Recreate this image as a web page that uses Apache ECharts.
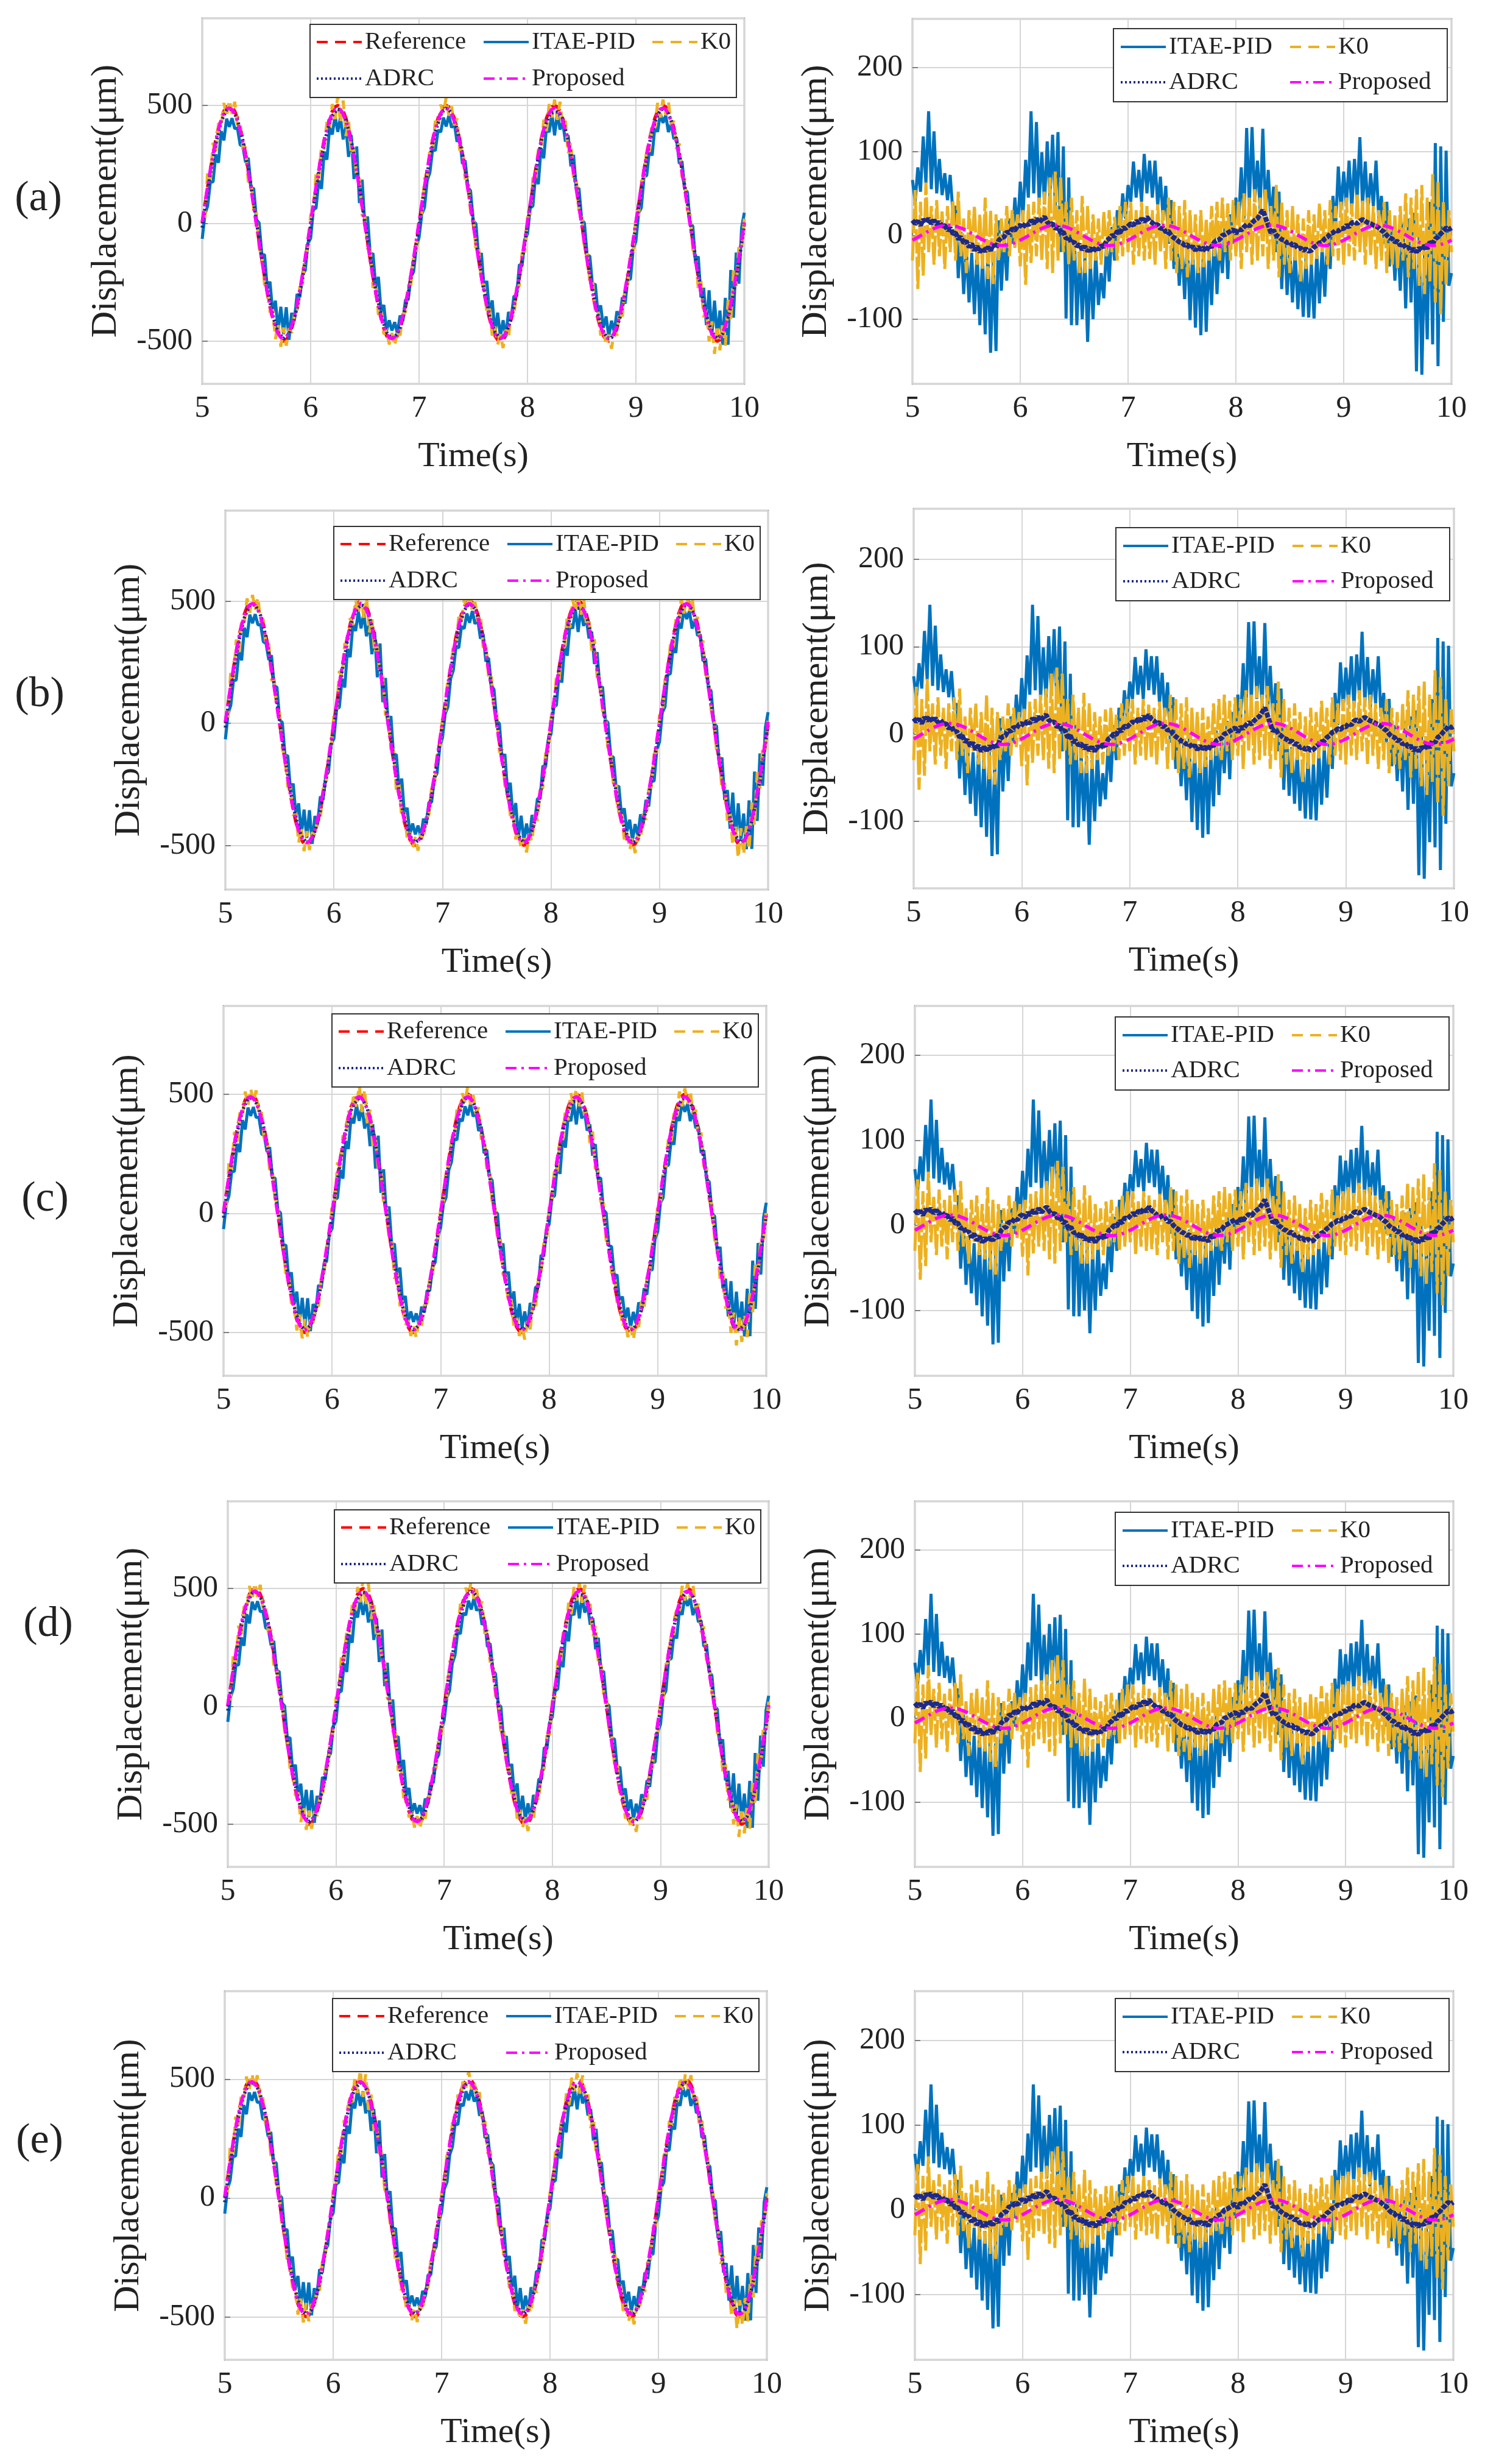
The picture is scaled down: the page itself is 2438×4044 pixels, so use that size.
<!DOCTYPE html>
<html>
<head>
<meta charset="UTF-8">
<title>Displacement tracking</title>
<script src="https://cdn.jsdelivr.net/npm/echarts/dist/echarts.min.js"></script>
<style>body{margin:0;background:#fff;}</style>
</head>
<body>
<div id="main" style="width:2438px;height:4044px;"></div>
<script type="text/javascript">

// sampling of the time axis (s): one value every 0.025 s from 5 to 10
var tStart = 5;
var tStep = 0.025;
var xTicks = [5, 6, 7, 8, 9, 10];
var panelNames = ['(a)', '(b)', '(c)', '(d)', '(e)'];
var leftNames = ['Reference', 'ITAE-PID', 'K0', 'ADRC', 'Proposed'];
var rightNames = ['ITAE-PID', 'K0', 'ADRC', 'Proposed'];

// reference displacement (um)
var refWave = [
  0, 78, 155, 227, 294, 354, 405, 446, 476, 494,
  500, 494, 476, 446, 405, 354, 294, 227, 155, 78,
  0, -78, -155, -227, -294, -354, -405, -446, -476, -494,
  -500, -494, -476, -446, -405, -354, -294, -227, -155, -78,
  0, 78, 155, 227, 294, 354, 405, 446, 476, 494,
  500, 494, 476, 446, 405, 354, 294, 227, 155, 78,
  0, -78, -155, -227, -294, -354, -405, -446, -476, -494,
  -500, -494, -476, -446, -405, -354, -294, -227, -155, -78,
  0, 78, 155, 227, 294, 354, 405, 446, 476, 494,
  500, 494, 476, 446, 405, 354, 294, 227, 155, 78,
  0, -78, -155, -227, -294, -354, -405, -446, -476, -494,
  -500, -494, -476, -446, -405, -354, -294, -227, -155, -78,
  0, 78, 155, 227, 294, 354, 405, 446, 476, 494,
  500, 494, 476, 446, 405, 354, 294, 227, 155, 78,
  0, -78, -155, -227, -294, -354, -405, -446, -476, -494,
  -500, -494, -476, -446, -405, -354, -294, -227, -155, -78,
  0, 78, 155, 227, 294, 354, 405, 446, 476, 494,
  500, 494, 476, 446, 405, 354, 294, 227, 155, 78,
  0, -78, -155, -227, -294, -354, -405, -446, -476, -494,
  -500, -494, -476, -446, -405, -354, -294, -227, -155, -78,
  0
];

// tracking errors (um)
var itaeErr = [
  66, 40, 81, 52, 118, 62, 148, 55, 124, 50,
  91, 48, 74, 42, 72, 28, 35, -51, 4, -70,
  -15, -80, -21, -94, -18, -107, -25, -118, -20, -140,
  -30, -138, 18, -66, 5, -54, 20, -10, 45, 5,
  64, 20, 90, 45, 148, 50, 135, 40, 99, 37,
  112, 45, 120, 35, 123, -20, 106, -99, 69, -107,
  10, -107, -20, -100, -25, -127, -30, -100, -20, -83,
  -45, -75, -10, -55, 10, -30, 30, 0, 50, 20,
  60, 40, 88, 45, 78, 40, 97, 50, 89, 45,
  89, 35, 70, 20, 59, -10, 42, -40, 0, -60,
  -10, -76, -5, -101, -15, -110, -20, -119, -10, -115,
  -20, -83, 4, -70, -5, -45, 15, -52, 25, -10,
  45, 13, 81, 20, 128, 35, 129, 40, 89, 30,
  127, 25, 78, 15, 58, -20, 52, -64, 10, -71,
  -15, -80, -20, -88, -30, -97, -25, -98, -33, -99,
  -20, -81, -15, -73, 0, -40, 47, 10, 82, 30,
  76, 35, 89, 30, 91, 42, 117, 35, 88, 28,
  74, 35, 89, 20, 47, -10, 40, -37, 10, -54,
  0, -66, 15, -87, 20, -80, 27, -162, 0, -166,
  -21, -124, 40, -130, 110, -156, 106, -103, 101, -60,
  -45
];

var k0Err = [
  -30, 54, -64, 40, -48, 63, -20, 35, -35, 42,
  -25, 30, -40, 35, -20, 42, -30, 52, -25, 20,
  -45, 30, -20, 35, -35, 25, -40, 45, -52, 30,
  -58, 25, -30, 20, -20, 35, -25, 30, -15, 25,
  -37, 30, -59, 37, -33, 40, -25, 45, -30, 52,
  -40, 69, -45, 76, -30, 69, -20, 40, -35, 45,
  -30, 30, -45, 47, -45, 35, -40, 25, -30, 20,
  -35, 28, -25, 30, -20, 22, -30, 35, -25, 40,
  -20, 40, -35, 30, -25, 40, -30, 35, -28, 30,
  -35, 37, -20, 30, -40, 45, -30, 40, -45, 35,
  -40, 42, -50, 30, -35, 25, -45, 30, -38, 20,
  -30, 35, -25, 40, -30, 45, -20, 38, -30, 42,
  -25, 40, -40, 50, -20, 45, -35, 55, -30, 45,
  -25, 55, -40, 35, -30, 60, -50, 40, -35, 30,
  -45, 35, -30, 25, -55, 20, -40, 30, -35, 25,
  -28, 38, -20, 30, -35, 42, -25, 35, -30, 40,
  -35, 45, -25, 38, -30, 50, -20, 42, -35, 45,
  -25, 35, -40, 30, -30, 40, -45, 30, -35, 25,
  -40, 35, -30, 50, -50, 45, -40, 55, -60, 60,
  -70, 45, -55, 73, -80, 65, -94, 40, -60, 30,
  -20
];

var adrcErr = [
  18, 14, 17, 12, 19, 15, 20, 14, 18, 13,
  16, 11, 12, 6, 9, 2, 3, -4, -2, -9,
  -7, -14, -10, -18, -13, -20, -15, -19, -14, -18,
  -11, -15, -6, -3, -2, 4, 3, 8, 6, 11,
  12, 9, 15, 12, 18, 14, 20, 15, 19, 22,
  16, 13, 14, 8, 10, 3, 4, -4, -2, -9,
  -8, -13, -11, -17, -13, -19, -15, -20, -14, -17,
  -12, -14, -6, -4, 0, -1, 5, 3, 9, 8,
  11, 14, 12, 17, 15, 20, 16, 22, 17, 15,
  12, 13, 8, 9, 4, 5, 0, -3, -5, -8,
  -9, -12, -11, -16, -13, -18, -14, -17, -15, -19,
  -12, -14, -8, -6, -5, 0, 1, 3, 5, 7,
  2, 8, 6, 10, 13, 11, 15, 18, 20, 25,
  30, 21, 12, 3, 6, 0, -2, -5, -6, -9,
  -8, -12, -11, -16, -15, -18, -16, -19, -18, -14,
  -12, -9, -8, -4, -2, 2, 3, 6, 5, 8,
  8, 12, 10, 15, 16, 14, 17, 19, 17, 15,
  14, 12, 11, 9, 6, 4, 0, -3, -4, -8,
  -7, -12, -10, -15, -14, -19, -16, -20, -15, -18,
  -12, -16, -8, -10, -4, -2, 2, 5, 9, 7,
  9
];

var propErr = [
  -5.8, -4.1, -2.2, -0.4, 1.5, 3.3, 5.1, 6.7, 8.2, 9.5,
  10.5, 11.3, 11.8, 12.0, 11.9, 11.5, 10.9, 9.9, 8.7, 7.4,
  5.8, 4.1, 2.2, 0.4, -1.5, -3.3, -5.1, -6.7, -8.2, -9.5,
  -10.5, -11.3, -11.8, -12.0, -11.9, -11.5, -10.9, -9.9, -8.7, -7.4,
  -5.7, -4.0, -2.2, -0.3, 1.6, 3.4, 5.1, 6.8, 8.3, 9.6,
  10.6, 11.4, 11.9, 12.1, 12.0, 11.6, 10.9, 9.9, 8.7, 7.3,
  5.7, 4.0, 2.1, 0.3, -1.6, -3.4, -5.2, -6.8, -8.3, -9.6,
  -10.6, -11.4, -11.9, -12.1, -12.0, -11.6, -10.9, -9.9, -8.6, -7.3,
  -5.8, -4.1, -2.2, -0.4, 1.5, 3.3, 5.1, 6.7, 8.2, 9.5,
  10.5, 11.3, 11.8, 12.0, 11.9, 11.5, 10.9, 9.9, 8.7, 7.4,
  5.8, 4.1, 2.2, 0.4, -1.5, -3.3, -5.1, -6.7, -8.2, -9.5,
  -10.5, -11.3, -11.8, -12.0, -11.9, -11.5, -10.9, -9.9, -8.7, -7.4,
  -5.7, -4.0, -2.2, -0.3, 1.6, 3.4, 5.1, 6.8, 8.3, 9.6,
  10.6, 11.4, 11.9, 12.1, 12.0, 11.6, 10.9, 9.9, 8.7, 7.3,
  5.7, 4.0, 2.1, 0.3, -1.6, -3.4, -5.2, -6.8, -8.3, -9.6,
  -10.6, -11.4, -11.9, -12.1, -12.0, -11.6, -10.9, -9.9, -8.6, -7.3,
  -5.8, -4.1, -2.2, -0.4, 1.5, 3.3, 5.1, 6.7, 8.2, 9.5,
  10.5, 11.3, 11.8, 12.0, 11.9, 11.5, 10.9, 9.9, 8.7, 7.4,
  5.8, 4.1, 2.2, 0.4, -1.5, -3.3, -5.1, -6.7, -8.2, -9.5,
  -10.5, -11.3, -11.8, -12.0, -11.9, -11.5, -10.9, -9.9, -8.7, -7.4,
  -5.8
];

// ---- layout / look (pixels) ----
var FONT = "'Liberation Serif', 'Times New Roman', serif";
var INK = '#222222';

// [left, top, width, height] of every plot box, panel label position, legend top offsets
var rows = [
  {L: [332, 30, 890, 600],  R: [1498, 31, 885, 599],  lab: [63, 327],  lgL: 10, lgR: 16},
  {L: [370, 838, 891, 622], R: [1500, 835, 887, 623], lab: [65, 1141], lgL: 26, lgR: 31},
  {L: [367, 1651, 891, 607], R: [1502, 1651, 884, 607], lab: [74, 1969], lgL: 13, lgR: 18},
  {L: [374, 2464, 888, 600], R: [1502, 2464, 884, 600], lab: [79, 2667], lgL: 14, lgR: 18},
  {L: [369, 3268, 890, 605], R: [1502, 3268, 884, 605], lab: [65, 3515], lgL: 12, lgR: 12}
];

// legend look; the error plots draw K0 / ADRC with denser dashes (they read as solid there)
var look = {
  'Reference': {color: '#ff0000', type: [18, 12], width: 5.5},
  'ITAE-PID':  {color: '#0072bd', type: 'solid', width: 5},
  'K0':        {color: '#edb120', type: [18, 12], width: 5, dense: [40, 5]},
  'ADRC':      {color: '#1c2a8c', type: [3, 4], width: 5.5, dense: [8, 2], wide: 8},
  'Proposed':  {color: '#ff00ff', type: [18, 8, 4, 8], width: 5.5}
};

function points(getY) {
    var out = [];
    for (var k = 0; k < refWave.length; k++) {
        out.push([+(tStart + k * tStep).toFixed(3), getY(k)]);
    }
    return out;
}

// left plots: tracked displacement = reference - error
var leftData = {
    'Reference': points(function (k) { return refWave[k]; }),
    'ITAE-PID': points(function (k) { return refWave[k] - itaeErr[k]; }),
    'K0': points(function (k) { return refWave[k] - k0Err[k]; }),
    'ADRC': points(function (k) { return refWave[k] - adrcErr[k]; }),
    'Proposed': points(function (k) { return refWave[k] - propErr[k]; })
};
var rightData = {
    'ITAE-PID': points(function (k) { return itaeErr[k]; }),
    'K0': points(function (k) { return k0Err[k]; }),
    'ADRC': points(function (k) { return adrcErr[k]; }),
    'Proposed': points(function (k) { return propErr[k]; })
};

var option = {
    animation: false,
    backgroundColor: '#ffffff',
    grid: [], xAxis: [], yAxis: [], series: [], legend: [],
    graphic: {elements: []}
};

function addPanel(box, side, lgTop) {
    var gi = option.grid.length;
    var isLeft = side === 'left';
    option.grid.push({
        left: box[0], top: box[1], width: box[2], height: box[3],
        show: true, backgroundColor: '#ffffff', borderColor: '#7f7f7f', borderWidth: 2.5
    });
    option.xAxis.push({
        gridIndex: gi, type: 'value', min: xTicks[0], max: xTicks[xTicks.length - 1], interval: 1,
        name: 'Time(s)', nameLocation: 'middle', nameGap: 91,
        nameTextStyle: {fontFamily: FONT, fontSize: 58, color: INK},
        axisLine: {show: false},
        axisTick: {show: true, inside: true, length: 9, lineStyle: {color: '#7f7f7f', width: 2}},
        axisLabel: {fontFamily: FONT, fontSize: 50, color: INK, margin: 16},
        splitLine: {show: true, lineStyle: {color: '#d6d6d6', width: 2}}
    });
    option.yAxis.push({
        gridIndex: gi, type: 'value',
        min: isLeft ? -681 : -177, max: isLeft ? 870 : 258,
        splitNumber: isLeft ? 3 : 4,
        name: 'Displacement(\u03bcm)', nameLocation: 'middle', nameGap: 128,
        nameTextStyle: {fontFamily: FONT, fontSize: 60, color: INK},
        axisLine: {show: false},
        axisTick: {show: true, inside: true, length: 9, lineStyle: {color: '#7f7f7f', width: 2}},
        axisLabel: {fontFamily: FONT, fontSize: 50, color: INK, margin: 16,
                    showMinLabel: false, showMaxLabel: false},
        splitLine: {show: true, lineStyle: {color: '#d6d6d6', width: 2}}
    });

    var names = isLeft ? leftNames : rightNames;
    var data = isLeft ? leftData : rightData;
    names.forEach(function (nm, j) {
        var s = look[nm];
        var w = (!isLeft && s.wide) ? s.wide : s.width;
        var dash = (!isLeft && s.dense) ? s.dense : s.type;
        option.series.push({
            type: 'line', name: nm, xAxisIndex: gi, yAxisIndex: gi,
            data: data[nm], symbol: 'none', showSymbol: false, silent: true,
            z: 2 + j * 0.01,
            lineStyle: {color: s.color, width: w, type: dash},
            itemStyle: {color: s.color}
        });
    });

    // legend: white box + one legend component per entry (column layout like MATLAB)
    var boxW = isLeft ? 700 : 548;
    var boxR = box[0] + box[2] - (isLeft ? 13 : 7);
    var boxX = boxR - boxW;
    var boxY = box[1] + lgTop;
    option.graphic.elements.push({
        type: 'rect', z: 3, silent: true,
        shape: {x: boxX, y: boxY, width: boxW, height: 120},
        style: {fill: '#ffffff', stroke: '#333333', lineWidth: 2}
    });
    var cols = isLeft ? [9, 283, 560] : [10, 288];
    var rowsY = isLeft ? [29, 89] : [30, 88];
    var perRow = isLeft ? 3 : 2;
    names.forEach(function (nm, j) {
        var c = j < perRow ? j : j - perRow;
        var r = j < perRow ? 0 : 1;
        var s = look[nm];
        option.legend.push({
            data: [nm], left: boxX + cols[c], top: boxY + rowsY[r] - 24,
            orient: 'horizontal', padding: 0, itemGap: 0,
            itemWidth: 74, itemHeight: 20, selectedMode: false, z: 5,
            itemStyle: {opacity: 0},
            lineStyle: {color: s.color, width: 4, type: s.type},
            textStyle: {fontFamily: FONT, fontSize: 41, color: INK, lineHeight: 48}
        });
    });
}

rows.forEach(function (row, i) {
    addPanel(row.L, 'left', row.lgL);
    addPanel(row.R, 'right', row.lgR);
    option.graphic.elements.push({
        type: 'text', x: row.lab[0], y: row.lab[1], silent: true,
        style: {text: panelNames[i], fontFamily: FONT, fontSize: 70, fill: INK,
                align: 'center', verticalAlign: 'middle'}
    });
});

var myChart = echarts.init(document.getElementById('main'));
myChart.setOption(option);
</script>
</body>
</html>
